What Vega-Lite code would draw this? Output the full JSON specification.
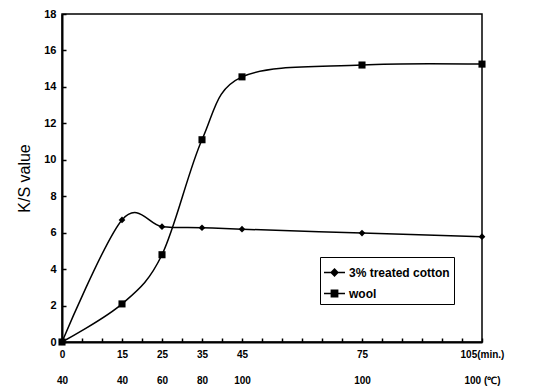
{
  "$schema": "https://vega.github.io/schema/vega-lite/v6.json",
  "width": 420,
  "height": 328,
  "autosize": {"type": "none"},
  "padding": {"left": 62, "top": 14, "right": 58, "bottom": 46},
  "background": "white",
  "config": {
    "font": "Liberation Sans",
    "view": {"stroke": "black", "strokeWidth": 1.5},
    "axis": {"grid": false, "domainColor": "black", "domainWidth": 2, "tickColor": "black", "tickWidth": 1.5, "labelColor": "black", "titleColor": "black"}
  },
  "data": {
    "values": [
      {"min": 0, "KS": 0, "series": "3% treated cotton"},
      {"min": 15, "KS": 6.7, "series": "3% treated cotton"},
      {"min": 25, "KS": 6.33, "series": "3% treated cotton"},
      {"min": 35, "KS": 6.27, "series": "3% treated cotton"},
      {"min": 45, "KS": 6.19, "series": "3% treated cotton"},
      {"min": 75, "KS": 5.98, "series": "3% treated cotton"},
      {"min": 105, "KS": 5.78, "series": "3% treated cotton"},
      {"min": 0, "KS": 0, "series": "wool"},
      {"min": 15, "KS": 2.09, "series": "wool"},
      {"min": 25, "KS": 4.79, "series": "wool"},
      {"min": 35, "KS": 11.1, "series": "wool"},
      {"min": 45, "KS": 14.55, "series": "wool"},
      {"min": 75, "KS": 15.2, "series": "wool"},
      {"min": 105, "KS": 15.25, "series": "wool"}
    ]
  },
  "encoding": {
    "x": {
      "field": "min", "type": "quantitative",
      "scale": {"domain": [0, 105], "nice": false},
      "axis": {
        "title": null,
        "values": [0,5,10,15,20,25,30,35,40,45,50,55,60,65,70,75,80,85,90,95,100,105],
        "tickSize": -4,
        "labelPadding": 11,
        "labelFontSize": 10,
        "labelFontWeight": "bold",
        "labelLineHeight": 26,
        "labelOverlap": false,
        "labelFlush": false,
        "labelBound": false,
        "labelExpr": "datum.value == 0 ? ['0','40'] : datum.value == 15 ? ['15','40'] : datum.value == 25 ? ['25','60'] : datum.value == 35 ? ['35','80'] : datum.value == 45 ? ['45','100'] : datum.value == 75 ? ['75','100'] : datum.value == 105 ? ['105(min.)','100 (℃)'] : ''"
      }
    },
    "y": {
      "field": "KS", "type": "quantitative",
      "scale": {"domain": [0, 18], "nice": false},
      "axis": {
        "title": "K/S value",
        "values": [0,2,4,6,8,10,12,14,16,18],
        "tickSize": -4,
        "labelPadding": 10,
        "labelFontSize": 11,
        "labelFontWeight": "bold",
        "titleFontSize": 16,
        "titleFontWeight": "normal",
        "titlePadding": 11
      }
    }
  },
  "layer": [
    {
      "mark": {"type": "line", "interpolate": "cardinal", "tension": 0, "stroke": "black", "strokeWidth": 1.5},
      "encoding": {"detail": {"field": "series"}}
    },
    {
      "transform": [{"filter": "datum.series == '3% treated cotton'"}],
      "mark": {"type": "point", "shape": "diamond", "filled": true, "opacity": 1, "color": "black", "size": 45}
    },
    {
      "transform": [{"filter": "datum.series == 'wool'"}],
      "mark": {"type": "point", "shape": "square", "filled": true, "opacity": 1, "color": "black", "size": 50}
    },
    {
      "mark": {"type": "point", "filled": false, "opacity": 0, "color": "black", "strokeWidth": 1.5},
      "encoding": {
        "shape": {
          "field": "series", "type": "nominal",
          "scale": {"domain": ["3% treated cotton", "wool"], "range": ["M-1,0H1M0,-0.32L0.32,0L0,0.32L-0.32,0ZM0,-0.18L0.18,0L0,0.18L-0.18,0ZM0,-0.05L0.05,0L0,0.05L-0.05,0Z", "M-1,0H1M-0.3,-0.3H0.3V0.3H-0.3ZM-0.16,-0.16H0.16V0.16H-0.16ZM-0.04,-0.04H0.04V0.04H-0.04Z"]},
          "legend": {
            "title": null,
            "orient": "none",
            "legendX": 258,
            "legendY": 243,
            "strokeColor": "black",
            "fillColor": "white",
            "padding": 4,
            "symbolOffset": -1,
            "symbolSize": 441,
            "symbolOpacity": 1,
            "symbolStrokeColor": "black",
            "symbolFillColor": "black",
            "symbolStrokeWidth": 1.5,
            "rowPadding": 3,
            "labelFontSize": 12,
            "labelFontWeight": "bold",
            "labelColor": "black",
            "labelOffset": 3
          }
        }
      }
    }
  ]
}
